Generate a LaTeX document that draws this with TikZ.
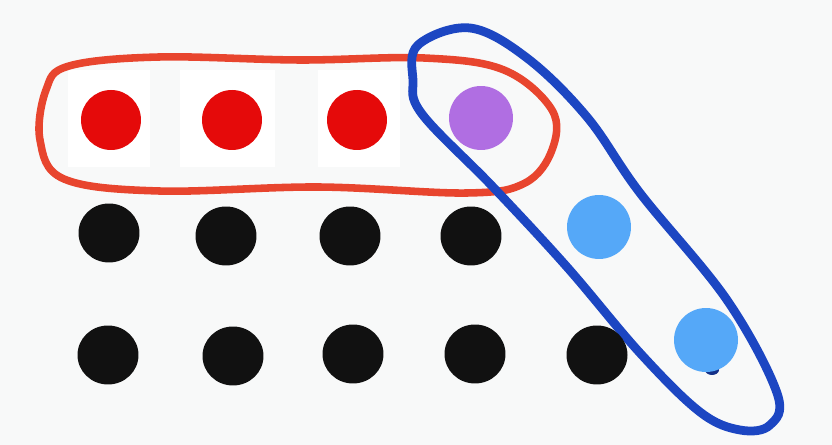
\documentclass[tikz,border=0pt]{standalone}
\usepackage{xcolor}
\usetikzlibrary{positioning,shapes.geometric}

\definecolor{paper}{HTML}{F8F9F9}
\definecolor{markerred}{HTML}{E8452E}
\definecolor{markerblue}{HTML}{1C46C2}
\definecolor{dotred}{HTML}{E50A0A}
\definecolor{dotpurple}{HTML}{B06EE2}
\definecolor{dotblue}{HTML}{55A8F8}
\definecolor{dotblack}{HTML}{111111}

\begin{document}
\begin{tikzpicture}[
  x=0.02cm, y=-0.02cm,
  dot/.style       = {circle, inner sep=0pt, minimum size=1.2cm},
  reddot/.style    = {dot, fill=dotred},
  blackdot/.style  = {ellipse, inner sep=0pt, fill=dotblack,
                      minimum width=1.22cm, minimum height=1.18cm},
  purpledot/.style = {dot, fill=dotpurple, minimum size=1.28cm},
  bluedot/.style   = {dot, fill=dotblue, minimum size=1.28cm},
  patch/.style     = {fill=white, draw=none},
  redloop/.style   = {draw=markerred, line width=4.3pt, line join=round},
  blueloop/.style  = {draw=markerblue, line width=5pt, line join=round}
]
\useasboundingbox[fill=paper] (0,0) rectangle (832,445);

%%% ---- PAPER PATCHES ----
\fill[patch] (68,70)  rectangle (150,167);
\fill[patch] (180,70) rectangle (275,167);
\fill[patch] (318,70) rectangle (400,167);

%%% ---- LOOPS ----
\draw[redloop] plot[smooth cycle, tension=0.6] coordinates {
  (69,66) (159,57) (300,60) (424,58) (504,70) (552,110) (552,150)
  (525,183) (467,193) (318,187) (159,191) (64,179) (40,140) (46,90)};
\draw[blueloop] plot[smooth cycle, tension=0.6] coordinates {
  (418,45) (470,28) (527,58) (587,117) (640,193) (727,300) (777,393)
  (770,425) (740,430) (700,412) (640,353) (567,267) (493,187) (422,114) (413,80)};

%%% ---- TOP ROW ----
\node[reddot]    (r1) at (111,120) {};
\node[reddot]    (r2) at (232,120) {};
\node[reddot]    (r3) at (357,120) {};
\node[purpledot] (p1) at (481,118) {};

%%% ---- MIDDLE ROW ----
\node[blackdot]  (m1) at (109,233) {};
\node[blackdot]  (m2) at (226,236) {};
\node[blackdot]  (m3) at (350,236) {};
\node[blackdot]  (m4) at (471,236) {};
\node[bluedot]   (b1) at (599,227) {};

%%% ---- BOTTOM ROW ----
\node[blackdot]  (n1) at (108,355) {};
\node[blackdot]  (n2) at (233,356) {};
\node[blackdot]  (n3) at (353,354) {};
\node[blackdot]  (n4) at (475,354) {};
\node[blackdot]  (n5) at (597,355) {};
\fill[markerblue!70!black] (712,370) ellipse (7 and 5);
\node[bluedot]   (b2) at (706,340) {};
\end{tikzpicture}
\end{document}
